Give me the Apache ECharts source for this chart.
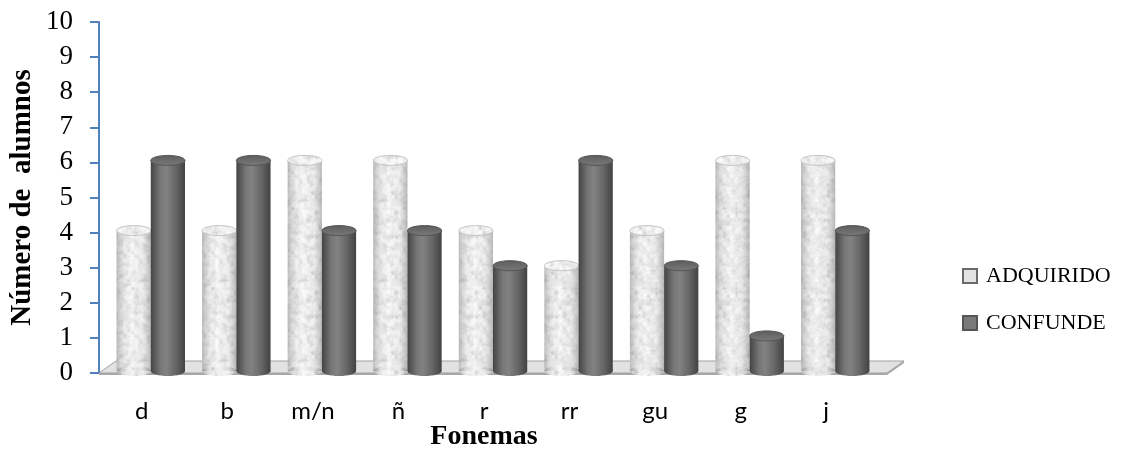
<!DOCTYPE html>
<html>
<head>
<meta charset="utf-8">
<title>Fonemas</title>
<script src="https://cdn.jsdelivr.net/npm/echarts@6/dist/echarts.min.js"></script>
<style>
  html, body { margin: 0; padding: 0; background: #ffffff; }
  #chart { width: 1122px; height: 462px; }
</style>
</head>
<body>
<div id="chart"></div>
<script>
// Phonemes on the horizontal axis
var categories = ['d', 'b', 'm/n', 'ñ', 'r', 'rr', 'gu', 'g', 'j'];
// Number of pupils per phoneme
var adquirido = [4, 4, 6, 6, 4, 3, 4, 6, 6];
var confunde = [6, 6, 4, 4, 3, 6, 3, 1, 4];
// Value axis ticks
var yTicks = [0, 1, 2, 3, 4, 5, 6, 7, 8, 9, 10];

var chart = echarts.init(document.getElementById('chart'));

// 3D look: depth offset of the bars and the floor plate
var DEPTH_DX = 9, DEPTH_DY = -2, RY = 5;

// Mottled marble-like tile used on the light cylinders (deterministic value noise)
function makeMarbleTile() {
  var size = 80, cell = 4;
  var c = document.createElement('canvas');
  c.width = size; c.height = size;
  var ctx = c.getContext('2d');
  var img = ctx.createImageData(size, size);
  var n = size / cell;
  function hash(ix, iy, m) {
    ix = ((ix % m) + m) % m; iy = ((iy % m) + m) % m;
    var h = (ix * 374761393 + iy * 668265263) | 0;
    h = (h ^ (h >>> 13)) * 1274126177 | 0;
    h = h ^ (h >>> 16);
    return (h & 0xffff) / 0xffff;
  }
  function smooth(t) { return t * t * (3 - 2 * t); }
  function noise(x, y, m) {
    var ix = Math.floor(x), iy = Math.floor(y);
    var fx = smooth(x - ix), fy = smooth(y - iy);
    var a = hash(ix, iy, m), b = hash(ix + 1, iy, m), d = hash(ix, iy + 1, m), e = hash(ix + 1, iy + 1, m);
    return (a * (1 - fx) + b * fx) * (1 - fy) + (d * (1 - fx) + e * fx) * fy;
  }
  for (var y = 0; y < size; y++) {
    for (var x = 0; x < size; x++) {
      var v = noise(x / cell, y / cell, n) * 0.6 + noise(x / (cell / 2), y / (cell / 2), n * 2) * 0.4;
      var g = Math.round(252 - Math.pow(v, 1.8) * 48);
      var k = (y * size + x) * 4;
      img.data[k] = g; img.data[k + 1] = g; img.data[k + 2] = g; img.data[k + 3] = 255;
    }
  }
  ctx.putImageData(img, 0, 0);
  return c;
}
var marble = { image: makeMarbleTile(), repeat: 'repeat' };

var lightShade = new echarts.graphic.LinearGradient(0, 0, 1, 0, [
  { offset: 0, color: 'rgba(110,110,110,0.42)' },
  { offset: 0.25, color: 'rgba(160,160,160,0.10)' },
  { offset: 0.45, color: 'rgba(255,255,255,0.20)' },
  { offset: 0.75, color: 'rgba(150,150,150,0.08)' },
  { offset: 1, color: 'rgba(100,100,100,0.42)' }
]);
var darkBody = new echarts.graphic.LinearGradient(0, 0, 1, 0, [
  { offset: 0, color: '#444444' },
  { offset: 0.28, color: '#777777' },
  { offset: 0.45, color: '#828282' },
  { offset: 0.72, color: '#676767' },
  { offset: 1, color: '#424242' }
]);
var darkTop = new echarts.graphic.LinearGradient(0, 0, 0, 1, [
  { offset: 0, color: '#5c5c5c' },
  { offset: 1, color: '#7a7a7a' }
]);

function cylinder(side, textured) {
  return function (params, api) {
    var i = api.value(0);
    var v = api.value(1);
    var base = api.coord([i, 0]);
    var head = api.coord([i, v]);
    var band = api.size([1, 0])[0];
    var w = band * 0.4;
    var cx = base[0] + DEPTH_DX + side * w / 2;
    var yb = base[1] + DEPTH_DY;
    var yt = head[1] + DEPTH_DY;
    var bodyFill = textured ? marble : darkBody;
    var children = [
      { type: 'ellipse', shape: { cx: cx, cy: yb, rx: w / 2, ry: RY }, style: { fill: bodyFill } },
      { type: 'rect', shape: { x: cx - w / 2, y: yt, width: w, height: yb - yt }, style: { fill: bodyFill } }
    ];
    if (textured) {
      children.push(
        { type: 'ellipse', shape: { cx: cx, cy: yb, rx: w / 2, ry: RY }, style: { fill: lightShade } },
        { type: 'rect', shape: { x: cx - w / 2, y: yt, width: w, height: yb - yt }, style: { fill: lightShade } },
        { type: 'ellipse', shape: { cx: cx, cy: yt, rx: w / 2, ry: RY },
          style: { fill: marble, stroke: '#c4c4c4', lineWidth: 1 } }
      );
    } else {
      children.push(
        { type: 'ellipse', shape: { cx: cx, cy: yt, rx: w / 2, ry: RY },
          style: { fill: darkTop, stroke: '#555555', lineWidth: 1 } }
      );
    }
    return { type: 'group', children: children };
  };
}

function floorPlate(params, api) {
  var cs = params.coordSys;
  var x0 = cs.x, y0 = cs.y + cs.height, x1 = cs.x + cs.width + 18;
  var dx = 17, dy = -12;
  return {
    type: 'group',
    children: [
      { type: 'polygon', shape: { points: [[x0, y0 + 2], [x1, y0 + 2], [x1 + dx, y0 + dy + 2], [x1 + dx, y0 + dy], [x1, y0], [x0, y0]] },
        style: { fill: '#a9a9a9' } },
      { type: 'polygon', shape: { points: [[x0, y0], [x1, y0], [x1 + dx, y0 + dy], [x0 + dx, y0 + dy]] },
        style: { fill: '#e2e2e2', stroke: '#a0a0a0', lineWidth: 1 } }
    ]
  };
}

var serif = '"Liberation Serif", "DejaVu Serif", serif';

chart.setOption({
  animation: false,
  backgroundColor: '#ffffff',
  grid: { left: 99, right: 253, top: 22, bottom: 89, containLabel: false, outerBoundsMode: 'none' },
  legend: {
    orient: 'vertical',
    left: 962,
    top: 265,
    padding: 0,
    itemGap: 25,
    itemWidth: 14,
    itemHeight: 14,
    textStyle: { fontFamily: serif, fontSize: 22, color: '#000000', padding: [0, 0, 0, 4] },
    data: [
      { name: 'ADQUIRIDO', icon: 'rect', itemStyle: { color: '#e3e3e3', borderColor: '#6b6b6b', borderWidth: 2 } },
      { name: 'CONFUNDE', icon: 'rect', itemStyle: { color: '#7a7a7a', borderColor: '#555555', borderWidth: 2 } }
    ]
  },
  xAxis: {
    type: 'category',
    data: categories,
    name: 'Fonemas',
    nameLocation: 'middle',
    nameMoveOverlap: false,
    nameGap: 50,
    nameTextStyle: { fontFamily: serif, fontSize: 28, fontWeight: 'bold', color: '#000000' },
    axisLine: { show: false },
    axisTick: { show: false },
    axisLabel: { fontFamily: 'Lato, "Open Sans", sans-serif', fontSize: 24, color: '#000000', margin: 26 },
    splitLine: { show: false }
  },
  yAxis: {
    type: 'value',
    min: yTicks[0],
    max: yTicks[yTicks.length - 1],
    interval: 1,
    name: 'Número de  alumnos',
    nameLocation: 'middle',
    nameMoveOverlap: false,
    nameGap: 62,
    nameRotate: 90,
    nameTextStyle: { fontFamily: serif, fontSize: 29, fontWeight: 'bold', color: '#000000' },
    axisLine: { show: true, lineStyle: { color: '#4f81bd', width: 2 } },
    axisTick: { show: true, length: 9, lineStyle: { color: '#4f81bd', width: 2 } },
    axisLabel: { fontFamily: serif, fontSize: 27, color: '#000000', margin: 26 },
    splitLine: { show: false }
  },
  series: [
    { type: 'custom', name: 'floor', renderItem: floorPlate, data: [[0, 0]], silent: true, z: 1, tooltip: { show: false } },
    { type: 'custom', name: 'ADQUIRIDO', renderItem: cylinder(-1, true), z: 2,
      itemStyle: { color: '#e3e3e3' },
      data: adquirido.map(function (v, i) { return [i, v]; }) },
    { type: 'custom', name: 'CONFUNDE', renderItem: cylinder(1, false), z: 3,
      itemStyle: { color: '#7a7a7a' },
      data: confunde.map(function (v, i) { return [i, v]; }) }
  ]
});
</script>
</body>
</html>
